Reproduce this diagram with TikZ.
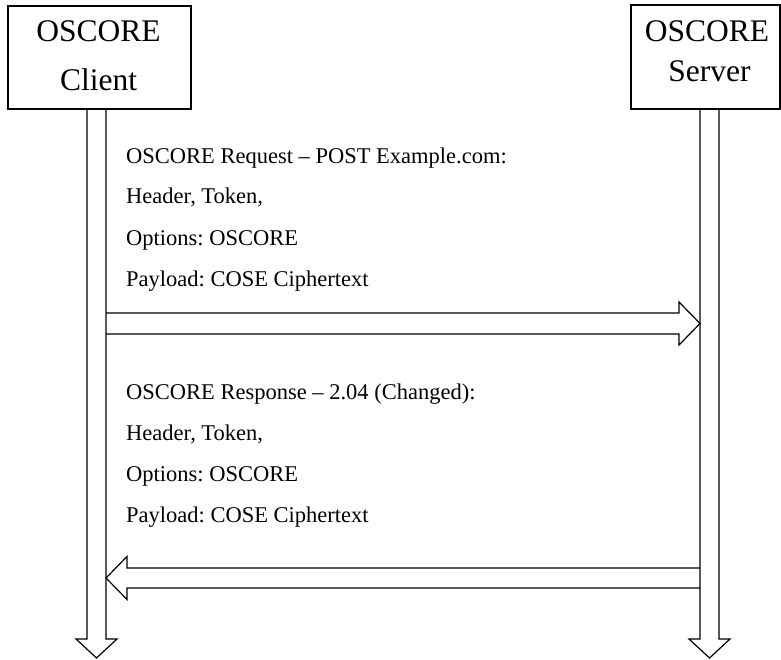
\documentclass[tikz,border=0pt]{standalone}
\usepackage{fontspec}
\setmainfont{Liberation Serif}
\usetikzlibrary{calc}

\begin{document}
\frenchspacing
\begin{tikzpicture}[x=1pt,y=-1pt]
        \tikzset{box/.style= {draw, rectangle, line width=1.2pt, inner sep=0pt},
                 title/.style= {font=\fontsize{31.5}{38}\selectfont, inner sep=0pt, anchor=base},
                 msg/.style= {font=\fontsize{22.5}{41}\selectfont, align=left, inner sep=0pt, anchor=base west},
                 hollow/.style= {draw, line width=1.2pt, line join=miter},
        }
        \useasboundingbox (0,0) rectangle (781,660);

        % end points
        \node [box, minimum width=183pt, minimum height=103pt] (client) at (99.5,57.5) {};
        \node [box, minimum width=149pt, minimum height=104pt] (server) at (705.5,57) {};

        \node [title] (clientA) at (98.5,42) {OSCORE};
        \node [title] (clientB) at (98.5,91) {Client};
        \node [title] (serverA) at (707,42) {OSCORE};
        \node [title] (serverB) at (709.5,82) {Server};

        % lifelines
        \coordinate (cTop) at (96.5,109);
        \coordinate (cTip) at (96.5,658);
        \coordinate (sTop) at (709.5,109);
        \coordinate (sTip) at (709.5,658);

        \draw [hollow] ($(cTop)+(-9.5,0)$) -- ($(cTip)+(-9.5,-19)$) -- ($(cTip)+(-20.5,-19)$)
            -- (cTip) -- ($(cTip)+(20.5,-19)$) -- ($(cTip)+(9.5,-19)$) -- ($(cTop)+(9.5,0)$);
        \draw [hollow] ($(sTop)+(-9.5,0)$) -- ($(sTip)+(-9.5,-19)$) -- ($(sTip)+(-20.5,-19)$)
            -- (sTip) -- ($(sTip)+(20.5,-19)$) -- ($(sTip)+(9.5,-19)$) -- ($(sTop)+(9.5,0)$);

        % messages (base = last line)
        \node [msg] (req) at (126,286) {OSCORE Request – POST Example.com:\\Header, Token,\\Options: OSCORE\\Payload: COSE Ciphertext};
        \node [msg] (res) at (126,522) {OSCORE Response – 2.04 (Changed):\\Header, Token,\\Options: OSCORE\\Payload: COSE Ciphertext};

        \coordinate (reqTail) at (106,323.5);
        \coordinate (reqTip) at (700,323.5);
        \coordinate (resTail) at (700,578);
        \coordinate (resTip) at (106,578);

        \draw [hollow] ($(reqTail)+(0,-10.5)$) -- ($(reqTip)+(-21,-10.5)$) -- ($(reqTip)+(-21,-21.5)$)
            -- (reqTip) -- ($(reqTip)+(-21,21.5)$) -- ($(reqTip)+(-21,10.5)$) -- ($(reqTail)+(0,10.5)$);
        \draw [hollow] ($(resTail)+(0,-10)$) -- ($(resTip)+(21,-10)$) -- ($(resTip)+(21,-21.5)$)
            -- (resTip) -- ($(resTip)+(21,21.5)$) -- ($(resTip)+(21,10)$) -- ($(resTail)+(0,10)$);
\end{tikzpicture}
\end{document}
